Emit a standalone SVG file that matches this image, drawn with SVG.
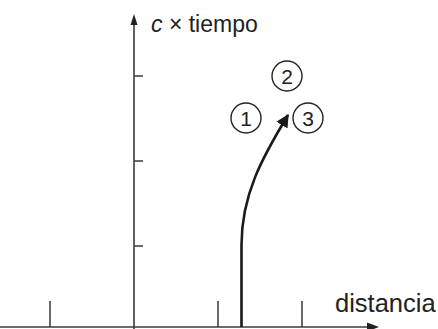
<svg xmlns="http://www.w3.org/2000/svg" width="438" height="329" viewBox="0 0 438 329">
<defs>
<style>
.ax{stroke:#3a3a3a;stroke-width:1.6;fill:none}
.tk{stroke:#444;stroke-width:1.6;fill:none}
.wl{stroke:#1a1a1a;stroke-width:2.6;fill:none}
.lbl{font-family:"Liberation Sans",Arial,sans-serif;fill:#222}
.num{font-family:"Liberation Sans",Arial,sans-serif;font-size:21px;fill:#222;text-anchor:middle}
.cir{fill:none;stroke:#222;stroke-width:1.4}
</style>
<marker id="ah" viewBox="0 0 10 10" refX="9" refY="5" markerWidth="5" markerHeight="5" orient="auto" markerUnits="strokeWidth">
<path d="M0,0 L10,5 L0,10 Z" fill="#1a1a1a"/>
</marker>
</defs>
<rect width="438" height="329" fill="#fff"/>
<g id="axes">
<line class="ax" x1="134" y1="329" x2="134" y2="24"/>
<path d="M134,14 L130.5,25 L137.5,25 Z" fill="#222"/>
<line class="ax" x1="0" y1="327" x2="368" y2="327"/>
<path d="M379,327 L367,322.5 L367,331.5 Z" fill="#222"/>
<line class="tk" x1="134" y1="76" x2="143" y2="76"/>
<line class="tk" x1="134" y1="161" x2="143" y2="161"/>
<line class="tk" x1="134" y1="246" x2="143" y2="246"/>
<line class="tk" x1="50" y1="301" x2="50" y2="327"/>
<line class="tk" x1="218" y1="301" x2="218" y2="327"/>
<line class="tk" x1="302" y1="301" x2="302" y2="327"/>
</g>
<g id="labels">
<text class="lbl" x="151" y="32" font-size="23"><tspan font-style="italic">c</tspan> × tiempo</text>
<text class="lbl" x="335" y="312" font-size="25.5">distancia</text>
</g>
<g id="connectors">
<path class="wl" d="M241.5,327 L241.5,245 C241.5,195 262,158 288,115" marker-end="url(#ah)"/>
</g>
<g id="n1"><circle class="cir" cx="246" cy="118" r="15"/><text class="num" x="246" y="125.5">1</text></g>
<g id="n2"><circle class="cir" cx="287" cy="76" r="15"/><text class="num" x="287" y="83.5">2</text></g>
<g id="n3"><circle class="cir" cx="308" cy="118" r="15"/><text class="num" x="308" y="125.5">3</text></g>
</svg>
